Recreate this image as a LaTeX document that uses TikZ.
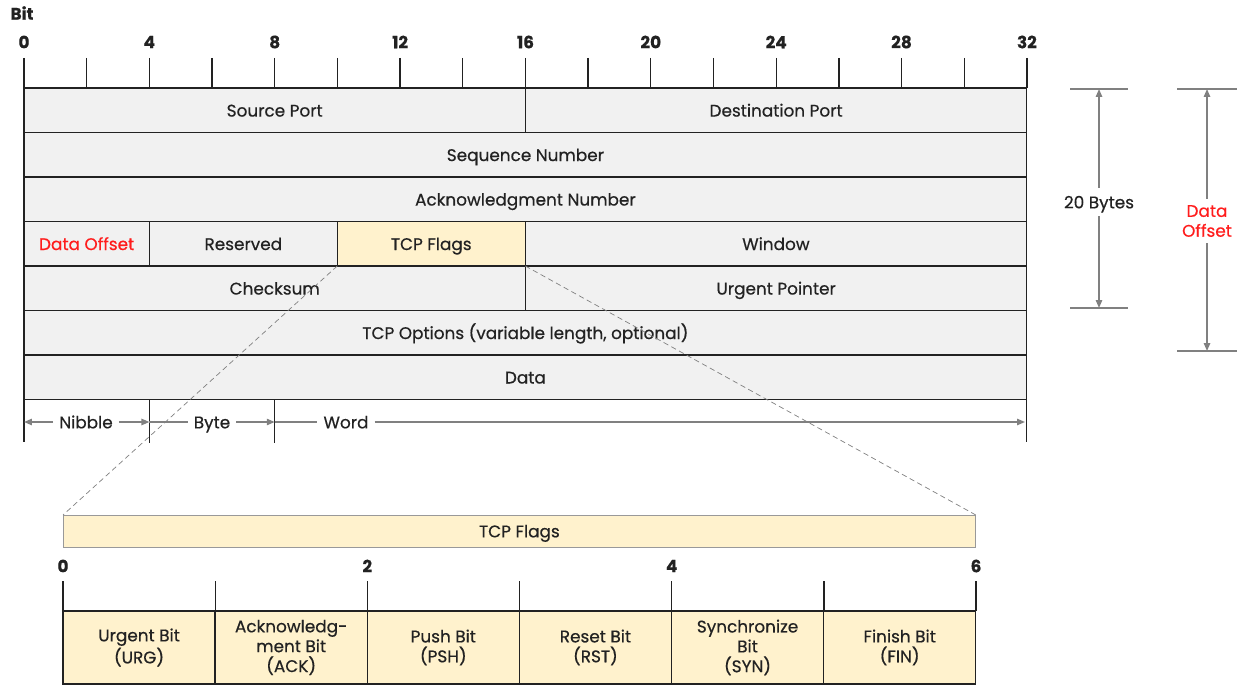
\documentclass[tikz,border=0pt]{standalone}
\usepackage{fontspec}
\setmainfont{Poppins}[FakeBold=0.5]
\usetikzlibrary{arrows.meta,positioning}
\definecolor{cell}{HTML}{F1F1F1}
\definecolor{flag}{HTML}{FFF2CD}
\definecolor{ink}{HTML}{222222}
\definecolor{alert}{HTML}{FF1C1C}
\definecolor{dim}{HTML}{808080}
\tikzset{
  >={Triangle[length=4.5pt,width=3.6pt]},
  every node/.style={font=\fontsize{9.6}{11.3}\selectfont,text=ink},
  field/.style={draw=ink,line width=0.75pt,fill=cell,minimum height=0.89cm,inner sep=0pt,outer sep=0pt,align=center,text height=8.1pt,text depth=0.9pt},
  flagfield/.style={field,fill=flag},
  bitbox/.style={draw=ink,line width=0.75pt,fill=flag,inner sep=0pt,outer sep=0pt,align=center,minimum height=1.46cm,minimum width=3.043cm},
  tickline/.style={draw=ink,line width=0.75pt},
  num/.style={font=\fontsize{9.6}{11}\selectfont\bfseries},
  alerttext/.style={text=alert,align=center},
  sizetext/.style={text height=8.1pt,text depth=0.9pt},
  dimline/.style={draw=dim,line width=0.6pt},
  dimarrow/.style={->,draw=dim,line width=0.9pt},
  zoomline/.style={draw=dim,densely dashed,line width=0.4pt},
}

\begin{document}
\begin{tikzpicture}[x=0.02cm,y=-0.02cm]
  \useasboundingbox (0,0) rectangle (1239,685);
  % bit ruler
  \node[num] (bitlabel) at (22,13) {Bit};
  \foreach \i in {0,2,...,32}
    \draw[tickline] ({24+31.34*\i},58) -- ({24+31.34*\i},88);
  \foreach \i in {0,4,...,32}
    \node[num] (bit\i) at ({24+31.34*\i},42) {\i};
  % header fields
  \node[field,anchor=north west,minimum width=10.03cm] (src) at (24,88) {Source Port};
  \node[field,right=0pt of src,minimum width=10.03cm] (dst) {Destination Port};
  \node[field,below=0pt of src.south west,anchor=north west,minimum width=20.06cm] (seq) {Sequence Number};
  \node[field,below=0pt of seq.south west,anchor=north west,minimum width=20.06cm] (ack) {Acknowledgment Number};
  \node[field,below=0pt of ack.south west,anchor=north west,minimum width=2.507cm] (doff) {\textcolor{alert}{Data Offset}};
  \node[field,right=0pt of doff,minimum width=3.760cm] (rsv) {Reserved};
  \node[flagfield,right=0pt of rsv,minimum width=3.760cm] (flags) {TCP Flags};
  \node[field,right=0pt of flags,minimum width=10.03cm] (win) {Window};
  \node[field,below=0pt of doff.south west,anchor=north west,minimum width=10.03cm] (csum) {Checksum};
  \node[field,right=0pt of csum,minimum width=10.03cm] (urgp) {Urgent Pointer};
  \node[field,below=0pt of csum.south west,anchor=north west,minimum width=20.06cm] (opts) {TCP Options (variable length, optional)};
  \node[field,below=0pt of opts.south west,anchor=north west,minimum width=20.06cm] (data) {Data};
  % size marks under the header
  \draw[tickline] (data.south west) -- ++(0,43);
  \draw[tickline] (149.4,399.5) -- (149.4,443);
  \draw[tickline] (274.7,399.5) -- (274.7,443);
  \draw[tickline] (data.south east) -- ++(0,43);
  \coordinate (n0) at (24,422);
  \coordinate (n1) at (149.4,422);
  \coordinate (n2) at (274.7,422);
  \coordinate (n3) at (1025,422);
  \node[sizetext] (nib) at (86,422) {Nibble};
  \node[sizetext] (byt) at (212,422) {Byte};
  \node[sizetext] (wrd) at (346,422) {Word};
  \draw[dimarrow] (nib) -- (n0);
  \draw[dimarrow] (nib) -- (n1);
  \draw[dimline] (n1) -- (byt);
  \draw[dimarrow] (byt) -- (n2);
  \draw[dimline] (n2) -- (wrd);
  \draw[dimarrow] (wrd) -- (n3);
  % header length marks
  \draw[dimline] (1070,89) -- (1128,89);
  \draw[dimline] (1070,308) -- (1128,308);
  \coordinate (hdrtop) at (1099,89);
  \coordinate (hdrbot) at (1099,308);
  \node[sizetext] (twenty) at (1099,202) {20 Bytes};
  \draw[dimarrow] (twenty) -- (hdrtop);
  \draw[dimarrow] (twenty) -- (hdrbot);
  \draw[dimline] (1177,89) -- (1237,89);
  \draw[dimline] (1177,351) -- (1237,351);
  \coordinate (offtop) at (1207,89);
  \coordinate (offbot) at (1207,351);
  \node[alerttext] (offlabel) at (1207,221) {Data\\Offset};
  \draw[dimarrow] (offlabel) -- (offtop);
  \draw[dimarrow] (offlabel) -- (offbot);
  % flags detail
  \node[flagfield,draw=dim!80,line width=0.5pt,anchor=north west,minimum width=18.26cm,minimum height=0.64cm] (lflags) at (63,515) {TCP Flags};
  \draw[zoomline] (flags.south west) -- (lflags.north west);
  \draw[zoomline] (flags.south east) -- (lflags.north east);
  \foreach \i in {0,...,6}
    \draw[tickline] ({63+152.17*\i},581) -- ({63+152.17*\i},611);
  \foreach \i in {0,2,4,6}
    \node[num] (fbit\i) at ({63+152.17*\i},566) {\i};
  \node[bitbox,anchor=north west] (urg) at (63,611) {Urgent Bit\\(URG)};
  \node[bitbox,right=0pt of urg] (ackb) {Acknowledg-\\ment Bit\\(ACK)};
  \node[bitbox,right=0pt of ackb] (psh) {Push Bit\\(PSH)};
  \node[bitbox,right=0pt of psh] (rst) {Reset Bit\\(RST)};
  \node[bitbox,right=0pt of rst] (syn) {Synchronize\\Bit\\(SYN)};
  \node[bitbox,right=0pt of syn] (fin) {Finish Bit\\(FIN)};
\end{tikzpicture}
\end{document}
